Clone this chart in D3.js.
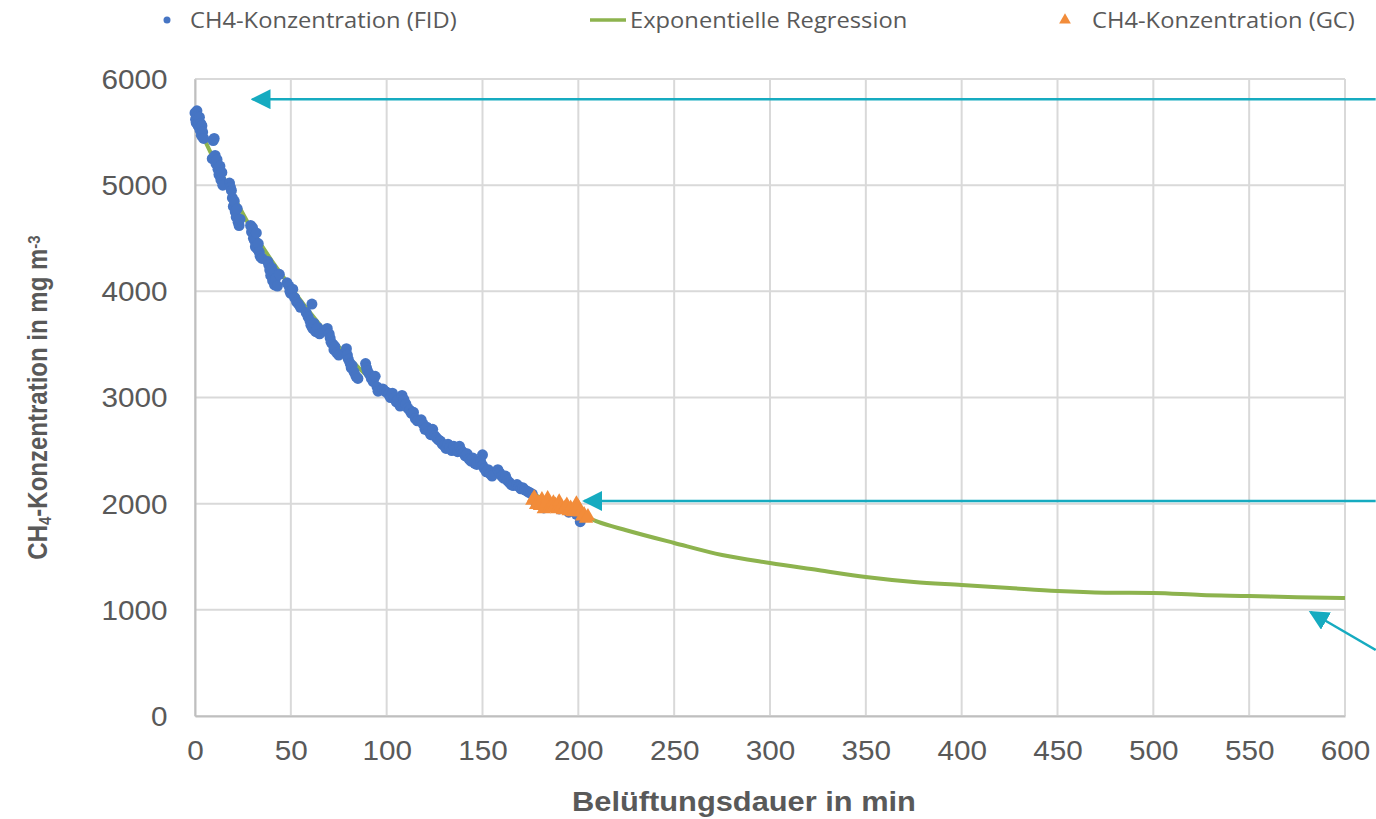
<!DOCTYPE html>
<html>
<head>
<meta charset="utf-8">
<script src="https://cdn.jsdelivr.net/npm/d3@7"></script>
<style>
  body { margin: 0; background: #fff; }
  svg { display: block; }
</style>
</head>
<body>
<div id="chart"></div>
<script>
// FID measurements (time in min, CH4 in mg m-3)
var fidTime = [0,0.3,0.6,1,1.3,1.6,2,2.3,2.6,3,3.3,3.6,4,4.5,
  9.5,10,
  9,10.5,11,11.5,12,12.5,13,13.5,14,14.5,
  18,18.5,19,19.5,20,20.5,21,21.5,22,22.5,23,23.5,
  29,29.5,30,30.5,31,31.5,32,32.5,33,33.5,34,35,
  38,38.5,39,39.5,40,40.5,41,41.5,42,43,44,
  48,49,49.5,50,51,52,53,54,55,
  61,
  58,59,60,60.5,61.5,62,63,64,65,
  69,70,70.5,71,72,72.5,73,74,75,
  79,79.5,80,81,81.5,82,83,84,85,
  89,89.5,90,91,92,93,94,95,95.5,
  98,99,100,101,102,103,104,105,106,107,
  108,109,110,111,112,113,114,115,116,
  118,119,120,121,122,123,124,125,126,127,
  128,129,130,131,132,133,134,135,136,137,
  138,139,140,141,142,143,144,145,146,147,
  150,
  149,150,151,152,153,154,155,
  158,159,160,161,162,163,164,165,166,
  168,169,170,171,172,173,174,175,176,
  178,182,186,190,195,199,201];
var fidValue = [5680,5620,5590,5700,5650,5560,5600,5640,5520,5580,5470,5560,5500,5440,
  5420,5440,
  5250,5280,5200,5240,5150,5100,5180,5050,5120,5000,
  5020,4980,4950,4880,4800,4850,4750,4700,4780,4650,4620,4680,
  4620,4560,4600,4500,4480,4420,4550,4400,4450,4370,4330,4310,
  4280,4250,4200,4150,4220,4100,4180,4060,4120,4050,4160,
  4080,4050,4000,3980,4020,3940,3900,3880,3850,
  3880,
  3800,3760,3720,3680,3650,3700,3620,3660,3600,
  3650,3600,3560,3520,3500,3450,3480,3420,3400,
  3460,3400,3360,3320,3280,3300,3240,3200,3180,
  3320,3280,3250,3220,3180,3150,3200,3100,3060,
  3080,3060,3050,3030,3000,3040,3000,2960,2980,2920,
  3020,2980,2940,2900,2880,2850,2860,2800,2780,
  2790,2750,2700,2720,2680,2650,2700,2640,2620,2600,
  2590,2560,2550,2520,2560,2530,2500,2540,2510,2490,
  2540,2500,2480,2450,2470,2420,2400,2430,2380,2370,
  2460,
  2400,2360,2330,2300,2320,2280,2260,
  2320,2290,2260,2240,2260,2220,2200,2180,2170,
  2180,2160,2140,2150,2130,2120,2110,2100,2090,
  2000,1960,1980,1950,1920,1900,1830];

// GC measurements
var gcTime  = [176,177,178,179,180,181,182,183,184,185,186,187,188,189,190,
  191,192,193,194,195,196,197,198,199,200,201,202,203,204,205];
var gcValue = [2030,2060,1990,2010,1980,2040,1950,2000,2050,1970,1960,2010,1990,1950,2020,
  1970,1940,1960,1990,1930,1960,1920,1950,2000,1970,1920,1880,1900,1860,1880];

// exponential regression curve
var regTime  = [0,10,20,30,40,50,60,70,80,90,100,110,120,130,140,150,160,170,180,190,200,
  210,225,250,275,300,325,350,375,400,425,450,475,500,525,550,575,600];
var regValue = [5620,5240,4900,4570,4290,4040,3800,3580,3380,3200,3040,2880,2730,2590,2460,2350,2240,2150,2060,1980,1910,
  1830,1750,1630,1516,1441,1375,1309,1262,1234,1205,1177,1162,1159,1140,1130,1118,1111];

var xTicks = [0,50,100,150,200,250,300,350,400,450,500,550,600];
var yTicks = [0,1000,2000,3000,4000,5000,6000];

var legendLabels = ['CH4-Konzentration (FID)', 'Exponentielle Regression', 'CH4-Konzentration (GC)'];

// annotation arrows [fromTime, fromValue, toTime, toValue]
var arrowFrom = [[616, 5810], [616, 2025], [616, 622]];
var arrowTo   = [[30, 5810], [203, 2025], [582, 980]];

var W = 1376, H = 819;
var blue = '#4675c4', green = '#8db34e', orange = '#f28c3a', teal = '#16abc0';
var axisFont = 'Liberation Sans, Arial, sans-serif';

var svg = d3.select('#chart').append('svg')
  .attr('width', W)
  .attr('height', H);

var x = d3.scaleLinear().domain([0, 600]).range([195, 1345]);
var y = d3.scaleLinear().domain([0, 6000]).range([716, 79]);

// gridlines
svg.append('g').selectAll('line.v').data(xTicks).enter().append('line')
  .attr('x1', d => x(d)).attr('x2', d => x(d))
  .attr('y1', y(6000)).attr('y2', y(0))
  .attr('stroke', '#d9d9d9').attr('stroke-width', 2);
svg.append('g').selectAll('line.h').data(yTicks).enter().append('line')
  .attr('x1', x(0)).attr('x2', x(600))
  .attr('y1', d => y(d)).attr('y2', d => y(d))
  .attr('stroke', '#d9d9d9').attr('stroke-width', 2);

// axes
var xAxis = d3.axisBottom(x).tickValues(xTicks).tickSize(0).tickPadding(25).tickFormat(d3.format('d'));
var yAxis = d3.axisLeft(y).tickValues(yTicks).tickSize(0).tickPadding(25).tickFormat(d3.format('d'));

var gx = svg.append('g').attr('transform', 'translate(0,' + y(0) + ')').call(xAxis);
var gy = svg.append('g').attr('transform', 'translate(' + x(0) + ',0)').call(yAxis);
[gx, gy].forEach(function(g) {
  g.select('.domain').attr('stroke', '#bfbfbf').attr('stroke-width', 2);
  g.selectAll('text')
    .attr('fill', '#595959')
    .attr('transform', 'scale(1.1,1)')
    .style('font-family', axisFont)
    .style('font-size', '27px');
});
gy.selectAll('text').attr('dy', '0.35em');

// regression line
var line = d3.line()
  .x((d, i) => x(regTime[i]))
  .y((d, i) => y(regValue[i]))
  .curve(d3.curveMonotoneX);
svg.append('path')
  .datum(regTime)
  .attr('d', line)
  .attr('fill', 'none')
  .attr('stroke', green)
  .attr('stroke-width', 4);

// FID points
svg.append('g').selectAll('circle').data(fidTime).enter().append('circle')
  .attr('cx', (d, i) => x(fidTime[i]))
  .attr('cy', (d, i) => y(fidValue[i]))
  .attr('r', 5.5)
  .attr('fill', blue);

// GC points
var tri = d3.symbol().type(d3.symbolTriangle).size(90);
svg.append('g').selectAll('path').data(gcTime).enter().append('path')
  .attr('d', tri)
  .attr('transform', (d, i) => 'translate(' + x(gcTime[i]) + ',' + y(gcValue[i]) + ')')
  .attr('fill', orange);

// arrows
svg.append('defs').append('marker')
  .attr('id', 'arrowhead')
  .attr('viewBox', '0 0 10 10')
  .attr('refX', 9).attr('refY', 5)
  .attr('markerWidth', 20).attr('markerHeight', 20)
  .attr('markerUnits', 'userSpaceOnUse')
  .attr('orient', 'auto')
  .append('path')
  .attr('d', 'M0,0 L10,5 L0,10 Z')
  .attr('fill', teal);

svg.append('g').selectAll('line').data(arrowFrom).enter().append('line')
  .attr('x1', d => x(d[0])).attr('y1', d => y(d[1]))
  .attr('x2', (d, i) => x(arrowTo[i][0])).attr('y2', (d, i) => y(arrowTo[i][1]))
  .attr('stroke', teal)
  .attr('stroke-width', 2.5)
  .attr('marker-end', 'url(#arrowhead)');

// axis titles
svg.append('text')
  .attr('transform', 'translate(744,811) scale(1.1,1)')
  .attr('text-anchor', 'middle')
  .attr('fill', '#595959')
  .style('font-family', axisFont)
  .style('font-weight', 'bold')
  .style('font-size', '28px')
  .text('Belüftungsdauer in min');

var yt = svg.append('text')
  .attr('transform', 'translate(47,' + ((y(0) + y(6000)) / 2) + ') rotate(-90) scale(1,1.15)')
  .attr('text-anchor', 'middle')
  .attr('fill', '#595959')
  .style('font-family', axisFont)
  .style('font-weight', 'bold')
  .style('font-size', '24px');
yt.append('tspan').text('CH');
yt.append('tspan').attr('baseline-shift', '-25%').style('font-size', '15px').text('4');
yt.append('tspan').text('-Konzentration in mg m');
yt.append('tspan').attr('baseline-shift', '45%').style('font-size', '15px').text('-3');

// legend
var legX = [167, 590, 1065];
var legText = [190, 630, 1092];
var leg = svg.append('g');
leg.append('circle').attr('cx', legX[0]).attr('cy', 20).attr('r', 3.5).attr('fill', blue);
leg.append('line').attr('x1', legX[1]).attr('x2', legX[1] + 36).attr('y1', 20).attr('y2', 20)
  .attr('stroke', green).attr('stroke-width', 3.5);
leg.append('path').attr('d', d3.symbol().type(d3.symbolTriangle).size(60))
  .attr('transform', 'translate(' + legX[2] + ',20)').attr('fill', orange);
leg.selectAll('text').data(legendLabels).enter().append('text')
  .attr('transform', (d, i) => 'translate(' + legText[i] + ',28) scale(1.13,1)')
  .attr('fill', '#595959')
  .style('font-family', 'Open Sans, sans-serif')
  .style('font-size', '21px')
  .text(d => d);
</script>
</body>
</html>
